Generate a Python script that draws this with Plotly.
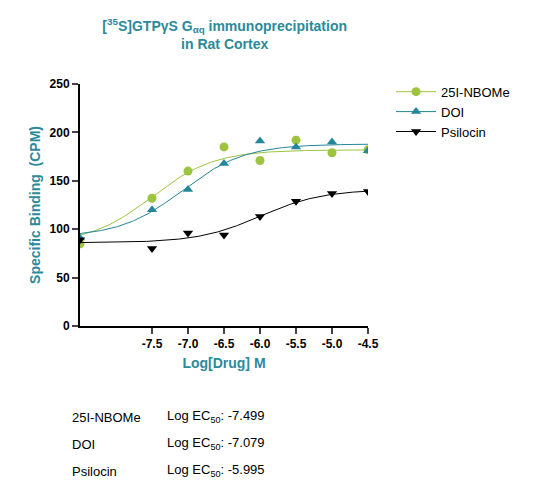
import numpy as np
import plotly.graph_objects as go

log_dose = [-8.5, -7.5, -7.0, -6.5, -6.0, -5.5, -5.0, -4.5]
nbome = [85, 132, 160, 185, 171, 192, 179, 182]
doi = [91, 120, 141, 168, 191, 185, 190, 181]
psilocin = [89, 80, 96, 94, 113, 129, 137, 139]

# fitted curve parameters: bottom, top, logEC50
fits = {"25I-NBOMe": (85, 182, -7.499), "DOI": (92, 188, -7.079), "Psilocin": (86, 141, -5.995)}
ticks = [-7.5, -7.0, -6.5, -6.0, -5.5, -5.0, -4.5]

teal = "#2b8a9b"
styles = {
    "25I-NBOMe": (nbome, "#9dc43f", "circle"),
    "DOI": (doi, "#24869a", "triangle-up"),
    "Psilocin": (psilocin, "black", "triangle-down"),
}

fig = go.Figure()
xs = np.linspace(-8.5, -4.5, 200)
for name, (ys, col, sym) in styles.items():
    b, t, ec = fits[name]
    fig.add_trace(go.Scatter(x=xs, y=b + (t - b) / (1 + 10 ** (ec - xs)), mode="lines",
                             line=dict(color=col, width=1), showlegend=False, hoverinfo="skip"))
    fig.add_trace(go.Scatter(x=log_dose, y=ys, mode="markers", showlegend=False,
                             marker=dict(symbol=sym, size=9, color=col)))
    # legend entry: line through marker
    fig.add_trace(go.Scatter(x=[None], y=[None], mode="lines+markers", name=name,
                             line=dict(color=col, width=1),
                             marker=dict(symbol=sym, size=9, color=col)))

fig.update_layout(
    width=535, height=500, paper_bgcolor="white", plot_bgcolor="white",
    margin=dict(l=72, r=175, t=76, b=182),
    font=dict(family="Liberation Sans, Arial", size=13, color="black"),
    title=dict(text="[<sup>35</sup>S]GTPγS G<sub>αq</sub> immunoprecipitation<br>in Rat Cortex",
               x=0.405, xanchor="center", y=0.955, font=dict(size=14, color=teal, weight="bold")),
    legend=dict(x=1.08, y=1.03, xanchor="left", yanchor="top", font=dict(size=13),
                itemwidth=40, tracegroupgap=6),
    xaxis=dict(range=[-8.5, -4.5], tickvals=ticks, ticktext=[f"{v:.1f}" for v in ticks],
               showline=True, linecolor="black", linewidth=2, ticks="outside", ticklen=6,
               tickwidth=2, showgrid=False, zeroline=False, automargin=False,
               tickfont=dict(size=12, weight="bold"),
               title=dict(text="Log[Drug] M", font=dict(size=14, color=teal, weight="bold"), standoff=8)),
    yaxis=dict(range=[0, 250], dtick=50, showline=True, linecolor="black", linewidth=2,
               ticks="outside", ticklen=6, tickwidth=2, showgrid=False, zeroline=False,
               automargin=False, tickfont=dict(size=12, weight="bold"),
               title=dict(text="Specific Binding  (CPM)", font=dict(size=14, color=teal, weight="bold"), standoff=6)),
)

ec_labels = [("25I-NBOMe", "-7.499"), ("DOI", "-7.079"), ("Psilocin", "-5.995")]
for i, (n, v) in enumerate(ec_labels):
    yd = (318 - (419 + i * 27)) / 242
    fig.add_annotation(x=(62 - 72) / 288, y=yd, xref="x domain", yref="y domain", text=n,
                       showarrow=False, xanchor="left", font=dict(size=13))
    fig.add_annotation(x=(157 - 72) / 288, y=yd, xref="x domain", yref="y domain",
                       text=f"Log EC<sub>50</sub>: {v}", showarrow=False, xanchor="left", font=dict(size=13))

fig.write_html("out.html")
